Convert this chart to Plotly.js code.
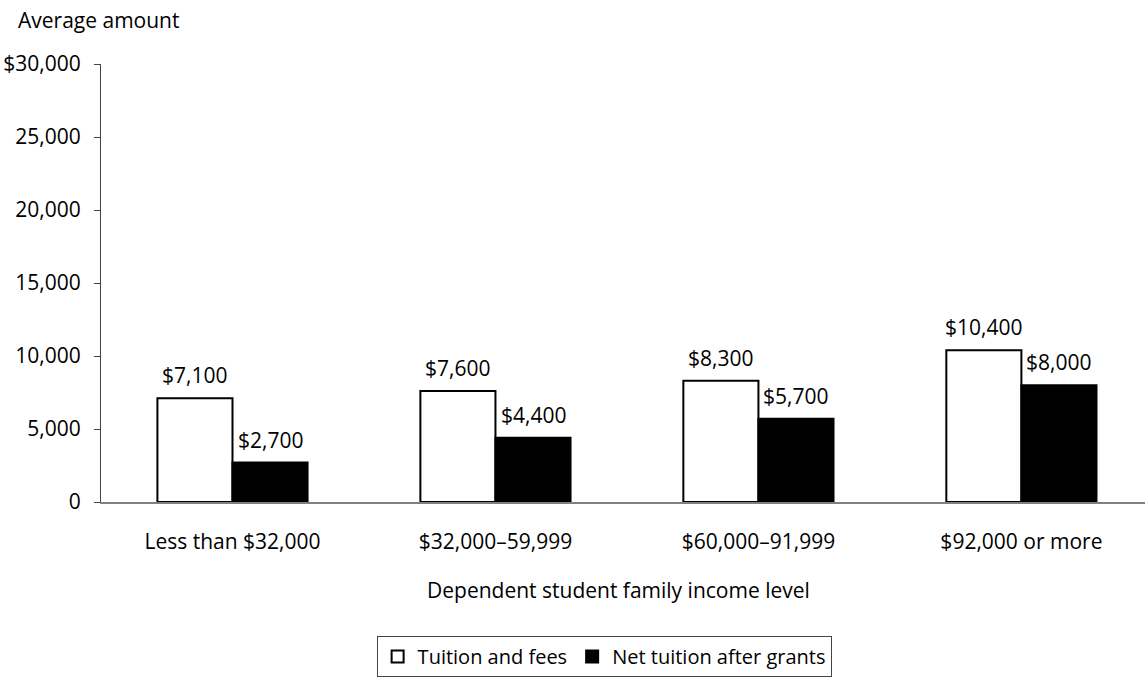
<!DOCTYPE html>
<html>
<head>
<meta charset="utf-8">
<script src="https://cdn.plot.ly/plotly-3.0.1.min.js"></script>
<style>html,body{margin:0;padding:0;background:#fff;}#chart{width:1145px;height:677px;}</style>
</head>
<body>
<div id="chart"></div>
<script>
var categories = ["Less than $32,000", "$32,000\u201359,999", "$60,000\u201391,999", "$92,000 or more"];
var tuitionFees = [7100, 7600, 8300, 10400];
var netTuition = [2700, 4400, 5700, 8000];
var seriesNames = ["Tuition and fees", "Net tuition after grants"];
var yTickVals = [0, 5000, 10000, 15000, 20000, 25000, 30000];
var yTickText = ["0", "5,000", "10,000", "15,000", "20,000", "25,000", "$30,000"];

var FONT = "Open Sans, Noto Sans, sans-serif";
var FS = 21;
var TXT = "#000";
var bargap = 0.429;
var half = (1 - bargap) / 4;

function fmt(v) { return "$" + v.toLocaleString("en-US"); }

var traces = [
  {type: "bar", name: seriesNames[0], x: categories, y: tuitionFees,
   marker: {color: "#ffffff", line: {color: "#000000", width: 2}}, hoverinfo: "y"},
  {type: "bar", name: seriesNames[1], x: categories, y: netTuition,
   marker: {color: "#000000", line: {color: "#000000", width: 2}}, hoverinfo: "y"}
];

var annotations = [];
categories.forEach(function (c, i) {
  annotations.push({x: i - half, y: tuitionFees[i], xref: "x", yref: "y", text: fmt(tuitionFees[i]),
    showarrow: false, yanchor: "bottom", yshift: 7, font: {family: FONT, size: FS, color: TXT}});
  annotations.push({x: i + half, y: netTuition[i], xref: "x", yref: "y", text: fmt(netTuition[i]),
    showarrow: false, yanchor: "bottom", yshift: 7, font: {family: FONT, size: FS, color: TXT}});
});
annotations.push({x: -0.0815, y: 1.101, xref: "paper", yref: "paper", xanchor: "left", yanchor: "middle",
  text: "Average amount", showarrow: false, font: {family: FONT, size: FS, color: TXT}});
annotations.push({x: 0.4957, y: -0.201, xref: "paper", yref: "paper", xanchor: "center", yanchor: "middle",
  text: "Dependent student family income level", showarrow: false, font: {family: FONT, size: FS, color: TXT}});

var layout = {
  width: 1145, height: 677,
  margin: {l: 101, r: 0, t: 64, b: 169.5, pad: 0},
  paper_bgcolor: "#fff", plot_bgcolor: "#fff",
  font: {family: FONT, size: FS, color: TXT},
  barmode: "group", bargap: bargap, bargroupgap: 0,
  showlegend: true,
  legend: {orientation: "h", x: 0.264, xanchor: "left", y: -0.3057, yanchor: "top",
    bordercolor: "#444", borderwidth: 1, font: {family: FONT, size: 20, color: TXT},
    traceorder: "normal", itemwidth: 30, tracegroupgap: 0},
  xaxis: {type: "category", range: [-0.5, 3.47], showgrid: false, zeroline: false,
    showline: true, linecolor: "#808080", linewidth: 2, ticks: "", ticklabelstandoff: 20,
    tickfont: {family: FONT, size: FS, color: TXT}, fixedrange: true},
  yaxis: {range: [0, 30000], tickvals: yTickVals, ticktext: yTickText, showgrid: false,
    zeroline: false, showline: true, linecolor: "#444", linewidth: 1, ticks: "outside",
    ticklen: 6, tickcolor: "#444", ticklabelstandoff: 9,
    tickfont: {family: FONT, size: FS, color: TXT}, fixedrange: true},
  annotations: annotations
};

Plotly.newPlot("chart", traces, layout, {displayModeBar: false, staticPlot: true});
</script>
</body>
</html>
